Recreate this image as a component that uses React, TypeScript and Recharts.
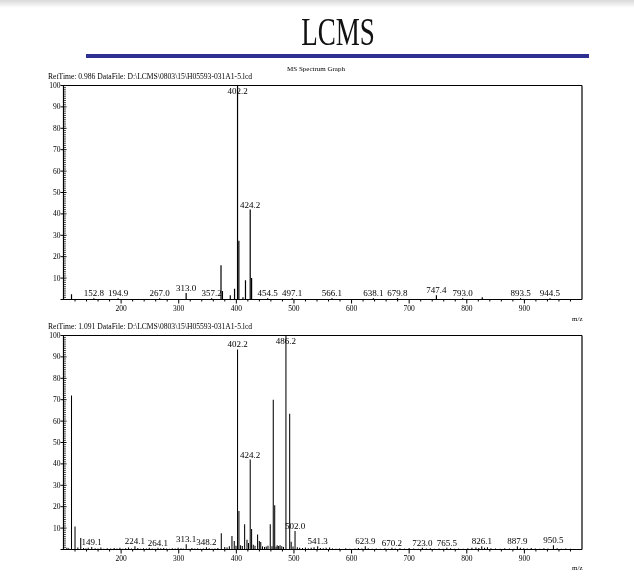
import React from 'react';
import { ComposedChart, Bar, XAxis, YAxis, ReferenceLine, LabelList } from 'recharts';

// ---------- Data ----------
// Spectrum 1 (RetTime 0.986)
const topMz = [114.0, 152.8, 194.9, 267.0, 313.0, 357.2, 373.5, 376.0, 389.6, 397.0, 402.2, 404.5, 411.6, 416.0, 424.2, 426.6, 454.5, 497.1, 566.1, 638.1, 679.8, 747.4, 793.0, 827.0, 893.5, 944.5];
const topIntensity = [2.5, 0.6, 0.6, 0.6, 3.0, 0.6, 16.0, 4.0, 2.0, 5.0, 100.0, 27.4, 1.0, 9.0, 42.0, 10.0, 0.6, 0.6, 0.6, 0.6, 0.6, 2.0, 0.6, 1.0, 0.6, 0.6];
const topLabelled = [152.8, 194.9, 267.0, 313.0, 357.2, 402.2, 424.2, 454.5, 497.1, 566.1, 638.1, 679.8, 747.4, 793.0, 893.5, 944.5];

// Spectrum 2 (RetTime 1.091)
const bottomMz = [114.0, 120.1, 130.0, 149.1, 224.1, 264.1, 313.1, 348.2, 374.0, 392.5, 396.5, 402.2, 404.6, 414.5, 418.6, 421.2, 424.2, 426.6, 437.0, 440.0, 442.5, 459.0, 464.2, 466.7, 471.0, 476.0, 479.0, 486.2, 492.7, 495.3, 502.0, 541.3, 623.9, 670.2, 723.0, 765.5, 826.1, 887.9, 950.5];
const bottomIntensity = [72.0, 10.7, 5.4, 1.2, 1.5, 0.8, 2.5, 1.0, 7.6, 6.3, 4.0, 93.5, 18.0, 11.8, 4.5, 3.0, 42.0, 9.6, 7.0, 4.0, 3.5, 11.8, 70.0, 20.7, 2.0, 2.0, 1.5, 100.0, 63.4, 3.6, 8.7, 1.5, 1.5, 0.8, 0.8, 0.8, 1.5, 1.5, 2.0];
const bottomLabelled = [149.1, 224.1, 264.1, 313.1, 348.2, 402.2, 424.2, 486.2, 502.0, 541.3, 623.9, 670.2, 723.0, 765.5, 826.1, 887.9, 950.5];

// Small background peaks of spectrum 2
const noiseMz = [106, 109, 125, 135, 139, 143, 155, 160, 165, 170, 176, 182, 188, 193, 198, 203, 208, 213, 218, 229, 234, 239, 244, 249, 254, 259, 269, 274, 279, 284, 289, 294, 299, 304, 308, 318, 323, 328, 333, 338, 343, 353, 358, 363, 368, 380, 384, 388, 399.5, 407.5, 410.5, 429.5, 432.5, 445.5, 449, 452, 455, 462, 469, 473.5, 482, 498.5, 506, 510, 515, 520, 525, 530, 535, 546, 551, 556, 562, 567, 573, 579, 590, 597, 606, 612, 618, 629, 636, 643, 650, 658, 664, 676, 684, 692, 700, 708, 716, 730, 737, 744, 752, 759, 772, 779, 786, 794, 802, 809, 816, 821, 831, 836, 842, 850, 858, 866, 874, 882, 893, 899, 905, 912, 919, 927, 934, 941, 957, 964, 972, 980];
const noiseIntensity = [0.8, 0.6, 0.9, 0.7, 0.5, 0.8, 0.6, 0.5, 0.9, 0.4, 0.6, 0.5, 0.7, 0.5, 0.8, 0.4, 0.6, 0.9, 0.5, 0.7, 0.4, 0.6, 0.5, 0.8, 0.5, 0.4, 0.6, 0.7, 0.5, 0.4, 0.6, 0.5, 0.8, 0.6, 0.5, 0.4, 0.7, 0.5, 0.6, 0.4, 0.5, 0.6, 0.4, 0.5, 0.7, 1.2, 0.9, 1.5, 1.8, 2.0, 1.6, 2.2, 1.8, 1.5, 1.2, 1.4, 1.8, 1.5, 1.3, 1.6, 1.2, 1.4, 1.0, 0.8, 0.7, 0.9, 0.6, 0.8, 1.1, 0.7, 0.6, 0.8, 0.9, 0.5, 0.4, 0.5, 0.6, 0.4, 0.5, 0.7, 0.5, 0.6, 0.4, 0.5, 0.4, 0.6, 0.4, 0.5, 0.6, 0.4, 0.7, 0.5, 0.4, 0.5, 0.6, 0.4, 0.5, 0.4, 0.6, 0.4, 0.5, 0.4, 0.6, 0.8, 0.9, 0.7, 0.8, 1.0, 0.6, 0.5, 0.4, 0.6, 0.5, 0.4, 0.8, 0.6, 0.5, 0.7, 0.5, 0.4, 0.6, 0.5, 0.6, 0.4, 0.5, 0.4];

const xAllTicks = Array.from({ length: 44 }, (_, i) => 120 + i * 20);
const yAllTicks = Array.from({ length: 101 }, (_, i) => i);

type Peak = { mz: number; intensity: number; label?: string };

function buildData(mz: number[], inten: number[], labelled: number[], extraMz: number[] = [], extraInt: number[] = []): Peak[] {
  const rows: Peak[] = mz.map((m, i) => ({
    mz: m,
    intensity: inten[i],
    label: labelled.includes(m) ? m.toFixed(1) : undefined,
  }));
  extraMz.forEach((m, i) => rows.push({ mz: m, intensity: extraInt[i] }));
  rows.sort((a, b) => a.mz - b.mz);
  return rows;
}

const topData = buildData(topMz, topIntensity, topLabelled);
const bottomData = buildData(bottomMz, bottomIntensity, bottomLabelled, noiseMz, noiseIntensity);

const SERIF = '"Liberation Serif", "DejaVu Serif", serif';

const YTick = (props: any) => {
  const { x, y, payload } = props;
  const v = payload.value;
  const major = v % 10 === 0;
  return (
    <g>
      {major ? (
        <line x1={x - 3} x2={x + 3} y1={y} y2={y} stroke="#000" strokeWidth={1} />
      ) : (
        <line x1={x} x2={x + 2.5} y1={y} y2={y} stroke="#000" strokeWidth={0.7} />
      )}
      {major && v > 0 ? (
        <text x={x - 3} y={y + 2.5} textAnchor="end" fontSize={7.5} fontFamily={SERIF} fill="#000">
          {v}
        </text>
      ) : null}
    </g>
  );
};

const XTick = (props: any) => {
  const { x, y, payload } = props;
  const v = payload.value;
  const major = v % 100 === 0;
  return (
    <g>
      <line x1={x} x2={x} y1={y} y2={y + (major ? 4 : 2)} stroke="#000" strokeWidth={1} />
      {major ? (
        <text x={x} y={y + 11.5} textAnchor="middle" fontSize={7.5} fontFamily={SERIF} fill="#000">
          {v}
        </text>
      ) : null}
    </g>
  );
};

function makeLabel(data: Peak[]) {
  const lookup: Record<string, number> = {};
  data.forEach((d) => {
    if (d.label) lookup[d.label] = d.intensity;
  });
  return (props: any) => {
    const { value } = props;
    if (!value) return null;
    const vb = props.viewBox || props;
    const inten = lookup[value];
    const bx = vb.x + vb.width / 2;
    let ty = vb.y - 2;
    if (inten && vb.height > 0) {
      const plotTop = vb.y + vb.height - (vb.height * 100) / inten;
      ty = Math.max(ty, plotTop + 8.5);
    }
    return (
      <text x={bx} y={ty} textAnchor="middle" fontSize={9} fontFamily={SERIF} fill="#000">
        {value}
      </text>
    );
  };
}

function Spectrum({ data, top }: { data: Peak[]; top: number }) {
  return (
    <div style={{ position: 'absolute', left: 0, top, width: 600, height: 260 }}>
      <ComposedChart
        width={600}
        height={260}
        data={data}
        margin={{ top: 25.5, right: 18, left: 3.5, bottom: 0 }}
      >
        <XAxis
          type="number"
          dataKey="mz"
          domain={[100, 1000]}
          allowDataOverflow
          ticks={xAllTicks}
          interval={0}
          tickSize={0}
          tickMargin={0}
          tick={<XTick />}
          height={20.5}
          axisLine={{ stroke: '#000', strokeWidth: 1.2 }}
          tickLine={false}
        />
        <YAxis
          type="number"
          domain={[0, 100]}
          ticks={yAllTicks}
          interval={0}
          tickSize={0}
          tickMargin={0}
          tick={<YTick />}
          width={60}
          axisLine={{ stroke: '#000', strokeWidth: 1.2 }}
          tickLine={false}
        />
        <ReferenceLine y={100} stroke="#000" strokeWidth={1.2} ifOverflow="visible" />
        <ReferenceLine x={1000} stroke="#000" strokeWidth={1.2} ifOverflow="visible" />
        <Bar dataKey="intensity" fill="#000" barSize={1.2} isAnimationActive={false}>
          <LabelList dataKey="label" content={makeLabel(data)} />
        </Bar>
      </ComposedChart>
    </div>
  );
}

export default function App() {
  return (
    <div style={{ position: 'absolute', left: 0, top: 0, width: 634, height: 579, background: '#fff', overflow: 'hidden', willChange: 'transform' }}>
      <div style={{ position: 'absolute', left: 0, top: 0, width: 634, height: 8, background: 'linear-gradient(#d9d9d9, #ffffff)' }} />
      <svg width={634} height={579} style={{ position: 'absolute', left: 0, top: 0 }}>
        <text
          x={0}
          y={45}
          fontSize={41}
          fontFamily={SERIF}
          textAnchor="middle"
          fill="#111"
          transform="translate(338,0) scale(0.66,1)"
        >
          LCMS
        </text>
        <rect x={86} y={54} width={503} height={4} fill="#2E3192" />
        <text x={316} y={71} fontSize={7} fontFamily={SERIF} textAnchor="middle" fill="#000">
          MS Spectrum Graph
        </text>
        <text x={48} y={79} fontSize={7.6} fontFamily={SERIF} fill="#000">
          RetTime: 0.986  DataFile: D:\LCMS\0803\15\H05593-031A1-5.lcd
        </text>
        <text x={48} y={329} fontSize={7.6} fontFamily={SERIF} fill="#000">
          RetTime: 1.091  DataFile: D:\LCMS\0803\15\H05593-031A1-5.lcd
        </text>
        <text x={572} y={321} fontSize={7} fontFamily={SERIF} fill="#000">
          m/z
        </text>
        <text x={572} y={570} fontSize={7} fontFamily={SERIF} fill="#000">
          m/z
        </text>
      </svg>
      <Spectrum data={topData} top={60} />
      <Spectrum data={bottomData} top={310} />
    </div>
  );
}
